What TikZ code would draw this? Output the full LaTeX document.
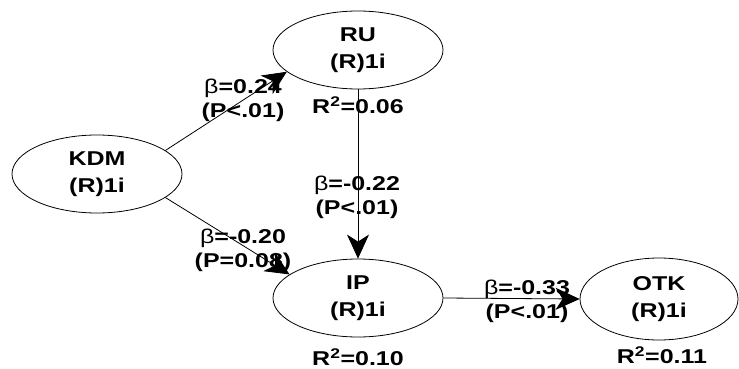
\documentclass[tikz,border=0pt]{standalone}
\usepackage{fontspec}
\setmainfont[FakeStretch=1.25]{Liberation Sans}
\usetikzlibrary{shapes.geometric,arrows.meta}
\begin{document}
\begin{tikzpicture}[x=1pt,y=-1pt,
  latent/.style={ellipse,draw,line width=0.8pt,minimum width=170pt,minimum height=78pt,
    inner sep=0pt,align=center,font=\fontsize{20}{27}\selectfont\bfseries},
  lbl/.style={align=center,font=\fontsize{20}{24}\selectfont\bfseries,inner sep=0pt},
  link/.style={line width=0.8pt,-{Stealth[length=24pt,width=22pt,inset=7pt]}}
]
\fill[white] (0,0) rectangle (739,369);
\useasboundingbox (0,0) rectangle (739,369);

% latent variables
\node[latent] (kdm) at (97,174) {KDM\\(R)1i};
\node[latent] (ru)  at (358,50) {RU\\(R)1i};
\node[latent] (ip)  at (358,298) {IP\\(R)1i};
\node[latent,minimum width=158pt,minimum height=82pt] (otk) at (659,299) {OTK\\(R)1i};

% structural paths
\draw[link] (kdm.19) -- (ru.197);
\draw[link] (kdm.-19) -- (ip.161);
\draw[link] (ru.south) -- (ip.north);
\draw[link] (ip.east) -- (otk.west);

% path coefficients
\node[lbl] (b1) at (243,100) {{\mdseries β}=0.24\\(P<.01)};
\node[lbl] (b2) at (243,250) {{\mdseries β}=-0.20\\(P=0.08)};
\node[lbl] (b3) at (357,197) {{\mdseries β}=-0.22\\(P<.01)};
\node[lbl] (b4) at (527,301) {{\mdseries β}=-0.33\\(P<.01)};

% explained variance
\node[lbl] (r1) at (358,105) {R\textsuperscript{2}=0.06};
\node[lbl] (r2) at (358,357) {R\textsuperscript{2}=0.10};
\node[lbl] (r3) at (662,355) {R\textsuperscript{2}=0.11};
\end{tikzpicture}
\end{document}
